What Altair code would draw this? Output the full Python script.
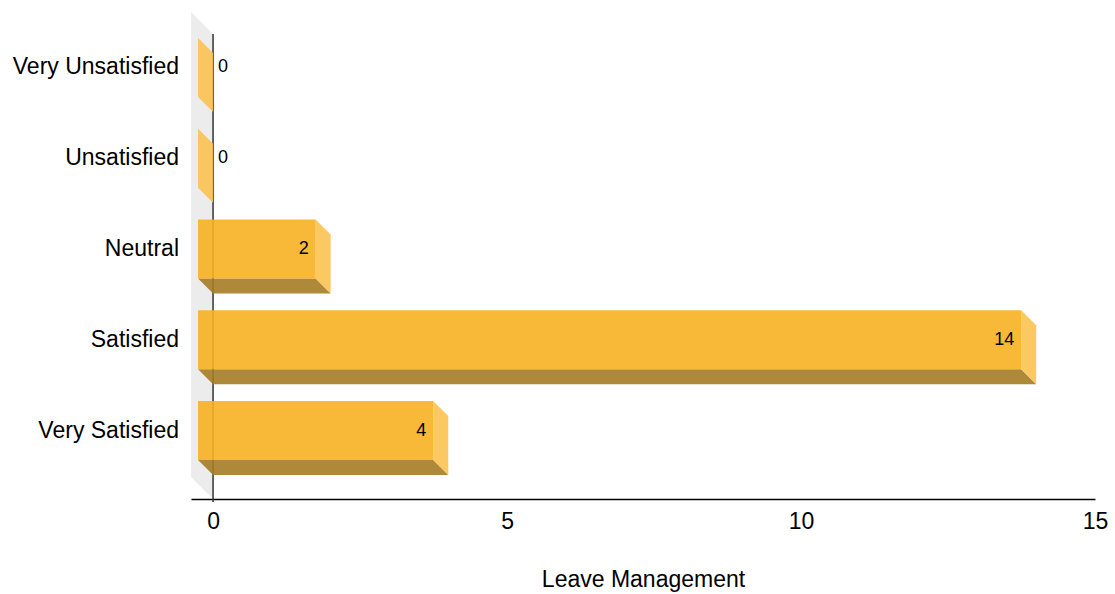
import altair as alt
import pandas as pd

# Survey answers for "Leave Management"
categories = ["Very Unsatisfied", "Unsatisfied", "Neutral", "Satisfied", "Very Satisfied"]
counts = [0, 0, 2, 14, 4]
x_ticks = [0, 5, 10, 15]

# Plot geometry (pixels) and the value domain
WIDTH, HEIGHT = 904, 487
X_MIN, X_MAX = -0.375, 15
PX_X = WIDTH / (X_MAX - X_MIN)          # pixels per unit on x
BAND_PX = 90.8                           # pixels per category band
Y_MIN = -25 / BAND_PX
Y_MAX = Y_MIN + HEIGHT / BAND_PX

# 3D depth of the columns and the back wall, in scale units
DEPTH_PX = 15
DX, DY = DEPTH_PX / PX_X, DEPTH_PX / BAND_PX
WALL_PX = 22
WX, WY = WALL_PX / PX_X, WALL_PX / BAND_PX
HALF_H = 29.5 / BAND_PX

FONT = "Liberation Sans"
FRONT = "#F7B022"
SIDE = "#FBC250"
BOTTOM = "#A57C23"

rows = []
for i, (cat, v) in enumerate(zip(categories, counts)):
    c = i + 0.5
    rows.append(dict(cat=cat, v=v, top=c - HALF_H, bot=c + HALF_H,
                     ftop=c - HALF_H - DY, fbot=c + HALF_H - DY,
                     fx=-DX, fx2=v - DX, fc=c - DY))
bars = pd.DataFrame(rows)

# Bottom face joins the front bottom edge to the back one; side face likewise on the right
bottom_rows = []
side_rows = []
for r in rows:
    bottom_rows.append(dict(cat=r["cat"], y=r["fbot"], x=-DX, x2=r["v"] - DX))
    bottom_rows.append(dict(cat=r["cat"], y=r["bot"], x=0.0, x2=r["v"]))
    side_rows.append(dict(cat=r["cat"], x=r["v"] - DX, y=r["ftop"], y2=r["fbot"]))
    side_rows.append(dict(cat=r["cat"], x=r["v"], y=r["top"], y2=r["bot"]))
bottom_df = pd.DataFrame(bottom_rows)
side_df = pd.DataFrame(side_rows)

wall_df = pd.DataFrame([
    dict(x=X_MIN, y=Y_MIN, y2=Y_MAX - WY),
    dict(x=0.0, y=Y_MIN + WY, y2=Y_MAX),
])

xs = alt.Scale(domain=[X_MIN, X_MAX], nice=False, zero=False)
ys = alt.Scale(domain=[Y_MIN, Y_MAX], nice=False, zero=False, reverse=True)

x_axis = alt.Axis(values=x_ticks, format="d", title="Leave Management", grid=False, ticks=False,
                  domainColor="#000000", domainWidth=1.5, labelFont=FONT,
                  labelFontSize=23, labelColor="#000000", labelPadding=11,
                  titleFont=FONT, titleFontSize=23, titleFontWeight="normal",
                  titleColor="#000000", titlePadding=35, labelFlush=False)

wall = alt.Chart(wall_df).mark_area(orient="vertical", color="#ECECEC").encode(
    x=alt.X("x:Q", scale=xs, axis=x_axis),
    y=alt.Y("y:Q", scale=ys, axis=None),
    y2="y2:Q",
)

zero_line = alt.Chart(pd.DataFrame([dict(x=0.0, y=Y_MIN + WY, y2=Y_MAX + 3 / BAND_PX)])).mark_rule(
    color="#333333", strokeWidth=1.5, clip=False
).encode(x=alt.X("x:Q", scale=xs), y=alt.Y("y:Q", scale=ys), y2="y2:Q")

bottom_face = alt.Chart(bottom_df).mark_area(orient="horizontal", color=BOTTOM, fillOpacity=0.9).encode(
    y=alt.Y("y:Q", scale=ys), x=alt.X("x:Q", scale=xs), x2="x2:Q", detail="cat:N"
)

side_face = alt.Chart(side_df).mark_area(orient="vertical", color=SIDE, fillOpacity=0.9).encode(
    x=alt.X("x:Q", scale=xs), y=alt.Y("y:Q", scale=ys), y2="y2:Q", detail="cat:N"
)

front_face = alt.Chart(bars).mark_rect(color=FRONT, fillOpacity=0.9).encode(
    x=alt.X("fx:Q", scale=xs), x2="fx2:Q",
    y=alt.Y("ftop:Q", scale=ys), y2="fbot:Q",
)

value_in = alt.Chart(bars).transform_filter("datum.v > 0").mark_text(
    align="right", baseline="middle", dx=-7, font=FONT, fontSize=18, color="#000000"
).encode(x=alt.X("fx2:Q", scale=xs), y=alt.Y("fc:Q", scale=ys), text="v:Q")

value_zero = alt.Chart(bars).transform_filter("datum.v == 0").mark_text(
    align="left", baseline="middle", dx=5, font=FONT, fontSize=18, color="#000000"
).encode(x=alt.value(WX * PX_X), y=alt.Y("fc:Q", scale=ys), text="v:Q")

cat_labels = alt.Chart(bars).mark_text(
    align="right", baseline="middle", dx=-12, font=FONT, fontSize=23, color="#000000"
).encode(x=alt.value(0), y=alt.Y("fc:Q", scale=ys), text="cat:N")

chart = alt.layer(
    wall, zero_line, bottom_face, side_face, front_face, value_in, value_zero, cat_labels
).properties(
    width=WIDTH, height=HEIGHT,
    autosize=alt.AutoSizeParams(type="none"),
    padding={"left": 191, "top": 12, "right": 20, "bottom": 95},
).configure(
    background="#FFFFFF",
    view=alt.ViewConfig(strokeWidth=0, stroke="transparent"),
)

chart.save("out.html", embed_options={"renderer": "svg", "actions": False})
